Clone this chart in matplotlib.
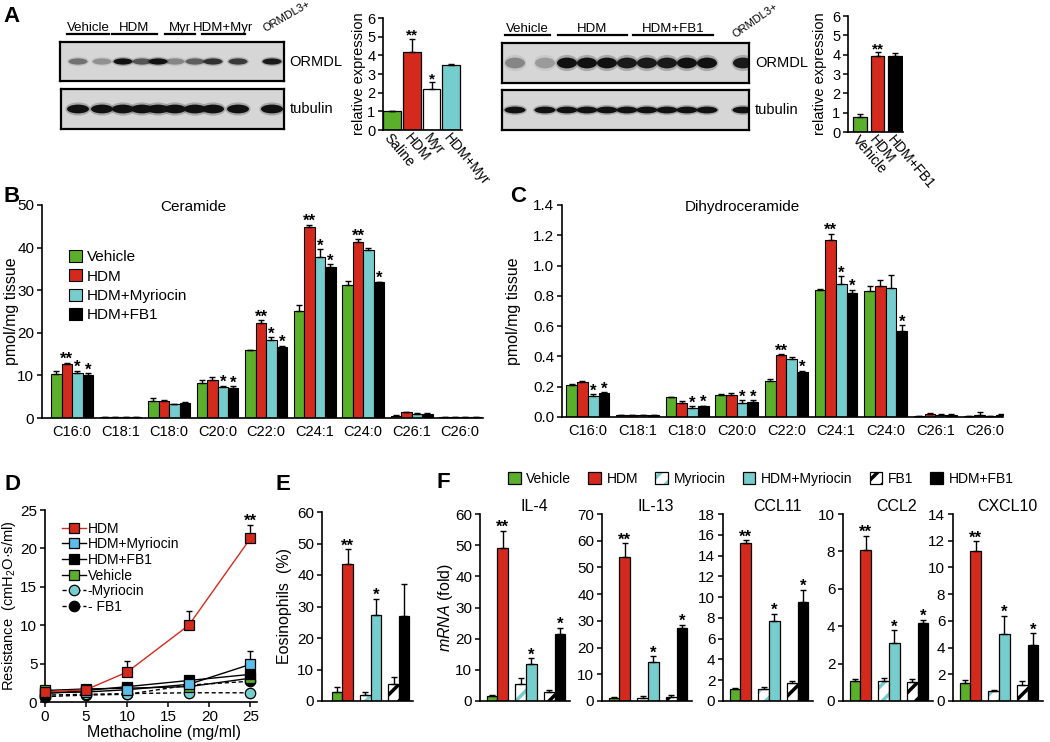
import numpy as np
import matplotlib
matplotlib.use('Agg')
import matplotlib.pyplot as plt
from matplotlib.patches import Ellipse, Patch
import matplotlib.transforms as mtransforms

plt.rcParams['font.family'] = ['Liberation Sans', 'DejaVu Sans']
plt.rcParams['mathtext.fontset'] = 'custom'
plt.rcParams['mathtext.rm'] = 'Liberation Sans'
plt.rcParams['mathtext.it'] = 'Liberation Sans:italic'
plt.rcParams['hatch.linewidth'] = 2.5
plt.rcParams['axes.linewidth'] = 1.2

GREEN = '#5aaf2b'
RED = '#d42a1e'
CYAN = '#76cdcd'
LBLUE = '#5cbde8'

# ---- A: western blots (band strength 0..1) and quantification ----
blot1_groups = ['Vehicle', 'HDM', 'Myr', 'HDM+Myr']
blot1_ormdl = [0.45, 0.3, 1.0, 0.6, 1.0, 0.35, 0.55, 0.8, 0.75, 0.95]
blot1_tubulin = [1.0, 1.0, 1.0, 1.0, 1.0, 1.0, 1.0, 1.0, 1.0, 1.0]

blot2_groups = ['Vehicle', 'HDM', 'HDM+FB1']
blot2_ormdl = [0.35, 0.25, 1.0, 1.0, 1.0, 0.95, 0.95, 0.95, 1.0, 1.0, 0.95]
blot2_tubulin = [1.0, 1.0, 1.0, 1.0, 1.0, 1.0, 1.0, 1.0, 1.0, 1.0, 1.0]

a1_labels = ['Saline', 'HDM', 'Myr', 'HDM+Myr']
a1_vals = [1.0, 4.2, 2.2, 3.5]
a1_err = [0.03, 0.7, 0.35, 0.05]
a1_stars = ['', '**', '*', '']

a2_labels = ['Vehicle', 'HDM', 'HDM+FB1']
a2_vals = [0.8, 3.95, 3.95]
a2_err = [0.15, 0.18, 0.12]
a2_stars = ['', '**', '']

# ---- B / C: lipids ----
lipid_species = ['C16:0', 'C18:1', 'C18:0', 'C20:0', 'C22:0', 'C24:1', 'C24:0', 'C26:1', 'C26:0']
lipid_groups = ['Vehicle', 'HDM', 'HDM+Myriocin', 'HDM+FB1']

cer_vehicle = [10.3, 0.3, 4.1, 8.1, 15.9, 25.2, 31.3, 0.5, 0.2]
cer_vehicle_err = [0.7, 0.05, 0.7, 0.8, 0.1, 1.3, 0.8, 0.1, 0.05]
cer_hdm = [12.7, 0.3, 3.9, 8.9, 22.2, 44.8, 41.4, 1.3, 0.2]
cer_hdm_err = [0.3, 0.05, 0.4, 0.7, 0.8, 0.6, 0.6, 0.2, 0.05]
cer_myr = [10.6, 0.2, 3.2, 7.2, 18.2, 37.8, 39.5, 1.0, 0.2]
cer_myr_err = [0.5, 0.05, 0.1, 0.4, 0.8, 1.9, 0.5, 0.1, 0.05]
cer_fb1 = [10.0, 0.3, 3.5, 7.0, 16.6, 35.4, 31.9, 1.0, 0.2]
cer_fb1_err = [0.5, 0.05, 0.2, 0.4, 0.4, 0.7, 0.1, 0.1, 0.05]
cer_stars = [['', '', '', '', '', '', '', '', ''],
             ['**', '', '', '', '**', '**', '**', '', ''],
             ['*', '', '', '*', '*', '*', '', '', ''],
             ['*', '', '', '*', '*', '*', '*', '', '']]

dh_vehicle = [0.21, 0.01, 0.13, 0.145, 0.24, 0.84, 0.835, 0.005, 0.005]
dh_vehicle_err = [0.01, 0.002, 0.005, 0.01, 0.01, 0.005, 0.03, 0.002, 0.002]
dh_hdm = [0.23, 0.01, 0.095, 0.145, 0.41, 1.17, 0.865, 0.02, 0.015]
dh_hdm_err = [0.01, 0.002, 0.01, 0.015, 0.005, 0.04, 0.04, 0.005, 0.02]
dh_myr = [0.14, 0.01, 0.06, 0.09, 0.385, 0.88, 0.855, 0.015, 0.005]
dh_myr_err = [0.01, 0.002, 0.01, 0.02, 0.01, 0.05, 0.08, 0.002, 0.002]
dh_fb1 = [0.16, 0.01, 0.07, 0.10, 0.295, 0.82, 0.565, 0.015, 0.01]
dh_fb1_err = [0.005, 0.002, 0.005, 0.01, 0.01, 0.02, 0.04, 0.002, 0.01]
dh_stars = [['', '', '', '', '', '', '', '', ''],
            ['', '', '', '', '**', '**', '', '', ''],
            ['*', '', '*', '*', '', '*', '', '', ''],
            ['*', '', '*', '*', '*', '*', '*', '', '']]

# ---- D: airway resistance ----
mch_dose = [0, 5, 10, 17.5, 25]
res_hdm = [1.3, 1.6, 3.9, 10.0, 21.3]
res_hdm_err = [0, 0, 1.4, 1.9, 1.8]
res_hdm_myr = [1.2, 1.3, 1.6, 2.3, 4.9]
res_hdm_myr_err = [0, 0, 0, 0, 1.7]
res_hdm_fb1 = [1.1, 1.5, 2.0, 2.8, 3.6]
res_vehicle = [1.5, 1.7, 1.8, 2.0, 3.1]
res_myr = [0.9, 1.0, 1.1, 1.2, 1.2]
res_fb1 = [0.7, 0.9, 1.0, 2.2, 2.7]

# ---- E / F: six treatment groups ----
treat_groups = ['Vehicle', 'HDM', 'Myriocin', 'HDM+Myriocin', 'FB1', 'HDM+FB1']
eos = [2.8, 43.6, 2.0, 27.3, 5.5, 27.0]
eos_err = [1.5, 4.5, 0.8, 5.2, 2.0, 10.0]
eos_stars = ['', '**', '', '*', '', '']

genes = ['IL-4', 'IL-13', 'CCL11', 'CCL2', 'CXCL10']
il4 = [1.5, 49.2, 5.5, 12.0, 3.0, 21.5]
il4_err = [0.5, 5.5, 1.8, 1.8, 0.5, 2.0]
il13 = [1.0, 54.0, 1.2, 14.7, 1.6, 27.3]
il13_err = [0.5, 5.0, 0.8, 2.0, 0.8, 1.2]
ccl11 = [1.2, 15.2, 1.2, 7.7, 1.7, 9.5]
ccl11_err = [0.05, 0.3, 0.1, 0.7, 0.2, 1.2]
ccl2 = [1.05, 8.1, 1.05, 3.1, 1.0, 4.15]
ccl2_err = [0.15, 0.75, 0.2, 0.7, 0.15, 0.2]
cxcl10 = [1.35, 11.25, 0.75, 5.05, 1.2, 4.2]
cxcl10_err = [0.25, 0.7, 0.1, 1.35, 0.3, 0.9]
mrna_stars = ['', '**', '', '*', '', '*']
mrna_ymax = [60, 70, 18, 10, 14]
mrna_ystep = [10, 10, 2, 2, 2]

# (facecolor, hatch colour) per treatment
treat_style = {'Vehicle': (GREEN, None), 'HDM': (RED, None),
               'Myriocin': ('white', CYAN), 'HDM+Myriocin': (CYAN, None),
               'FB1': ('white', 'k'), 'HDM+FB1': ('k', None)}
lipid_colors = [GREEN, RED, CYAN, 'k']

W, H = 1050, 742
fig = plt.figure(figsize=(W / 100, H / 100), dpi=100)


def px_axes(x0, y0, x1, y1):
    return fig.add_axes([x0 / W, 1 - y1 / H, (x1 - x0) / W, (y1 - y0) / H])


def fig_text(x, y, s, **kw):
    fig.text(x / W, 1 - y / H, s, **kw)


def style(ax, fs=11, xticks=False):
    for s in ['top', 'right']:
        ax.spines[s].set_visible(False)
    ax.tick_params(direction='out', length=3.5, width=1.1, labelsize=fs, pad=2)
    if not xticks:
        ax.tick_params(axis='x', length=0)


def star(ax, x, y, s, fs=12):
    if s:
        ax.annotate(s, (x, y), xytext=(0, -1), textcoords='offset points',
                    ha='center', va='baseline', fontsize=fs, fontweight='bold')


def up_err(ax, x, y, e, cap=2.5):
    ax.errorbar(x, y, yerr=[np.zeros(len(e)), e], fmt='none', ecolor='k',
                elinewidth=1, capsize=cap, capthick=1, zorder=3)


def treat_bars(ax, x, vals, errs, width=1.0):
    for xi, v, g in zip(x, vals, treat_groups):
        fc, hc = treat_style[g]
        if hc is None:
            ax.bar(xi, v, width, color=fc, edgecolor='k', lw=0.9, zorder=2)
        else:
            ax.bar(xi, v, width, color='white', edgecolor=hc, hatch='//', lw=0, zorder=2)
            ax.bar(xi, v, width, fill=False, edgecolor='k', lw=0.9, zorder=2)
    up_err(ax, x, vals, errs)


def draw_blot(ax, lanes, strength, bw, bh, xlim):
    ax.set_facecolor('#d6d6d6')
    for x, s in zip(lanes, strength):
        ax.add_patch(Ellipse((x, 0.5), bw * 1.15, bh * 1.5, color='#222222', alpha=0.25 * s, lw=0))
        ax.add_patch(Ellipse((x, 0.5), bw, bh, color='#111111', alpha=s, lw=0))
    ax.set_xlim(*xlim)
    ax.set_ylim(0, 1)
    ax.set_xticks([])
    ax.set_yticks([])
    for sp in ax.spines.values():
        sp.set_linewidth(1.6)


def blot_header(ax, groups, spans, ytext, yline):
    tr = mtransforms.blended_transform_factory(ax.transData, ax.transAxes)
    for g, (x0, x1) in zip(groups, spans):
        ax.plot([x0, x1], [yline, yline], color='k', lw=1.6, transform=tr, clip_on=False)
        ax.text((x0 + x1) / 2, ytext, g, transform=tr, ha='center', va='center', fontsize=9.5)


# ---------------- Panel A ----------------
# lane units: 20 px per lane
lanes1 = [0, 1.2, 2.25, 3.2, 4.0, 4.85, 5.85, 6.75, 8.0, 9.7]
spans1 = [(-0.55, 1.55), (1.7, 3.95), (4.35, 5.85), (6.2, 8.35)]
ax = px_axes(60, 42, 284, 81)
draw_blot(ax, lanes1, blot1_ormdl, 0.95, 0.16, (-0.9, 10.3))
blot_header(ax, blot1_groups, spans1, 1.36, 1.2)
tr = mtransforms.blended_transform_factory(ax.transData, ax.transAxes)
ax.text(9.45, 1.2, 'ORMDL3+', transform=tr, rotation=30, rotation_mode='anchor',
        ha='left', va='bottom', fontsize=8)
ax.text(1.025, 0.5, 'ORMDL', transform=ax.transAxes, va='center', fontsize=10.5)
ax = px_axes(61, 89, 284, 129)
draw_blot(ax, lanes1, blot1_tubulin, 1.1, 0.22, (-0.85, 10.3))
ax.text(1.025, 0.5, 'tubulin', transform=ax.transAxes, va='center', fontsize=10.5)

lanes2 = [0, 1.5, 2.6, 3.6, 4.6, 5.6, 6.6, 7.6, 8.6, 9.6, 11.4]
spans2 = [(-0.5, 1.75), (2.15, 5.6), (5.9, 9.9)]
ax = px_axes(502, 43, 749, 83)
draw_blot(ax, lanes2, blot2_ormdl, 1.0, 0.27, (-0.65, 11.7))
blot_header(ax, blot2_groups, spans2, 1.35, 1.2)
tr = mtransforms.blended_transform_factory(ax.transData, ax.transAxes)
ax.text(11.1, 1.08, 'ORMDL3+', transform=tr, rotation=35, rotation_mode='anchor',
        ha='left', va='bottom', fontsize=8)
ax.text(1.025, 0.5, 'ORMDL', transform=ax.transAxes, va='center', fontsize=10.5)
ax = px_axes(502, 90, 749, 130)
draw_blot(ax, lanes2, blot2_tubulin, 1.05, 0.17, (-0.65, 11.7))
ax.text(1.025, 0.5, 'tubulin', transform=ax.transAxes, va='center', fontsize=10.5)

for (x0, y0, x1, y1), labels, vals, errs, stars, colors, xl, w, lab_dx in [
        ((383, 18, 462, 130), a1_labels, a1_vals, a1_err, a1_stars,
         [GREEN, RED, 'white', CYAN], (-0.47, 3.55), 0.9, 17),
        ((848, 16, 903, 132), a2_labels, a2_vals, a2_err, a2_stars,
         [GREEN, RED, 'k'], (-0.69, 2.46), 0.8, 21)]:
    ax = px_axes(x0, y0, x1, y1)
    x = np.arange(len(vals))
    ax.bar(x, vals, w, color=colors, edgecolor='k', lw=0.9, zorder=2)
    up_err(ax, x, vals, errs, cap=2)
    for xi, v, e, s in zip(x, vals, errs, stars):
        star(ax, xi, v + e, s, fs=11)
    ax.set_xlim(*xl)
    ax.set_ylim(0, 6)
    ax.set_yticks(range(7))
    ax.set_xticks(x)
    ax.set_xticklabels(labels, rotation=-50, ha='left', rotation_mode='anchor')
    style(ax, fs=10.5)
    ax.tick_params(axis='x', labelsize=10, pad=1)
    ax.set_ylabel('relative expression', fontsize=10.5)
    ax.yaxis.set_label_coords(-lab_dx / (x1 - x0), 0.5)


# ---------------- Panels B, C ----------------
def lipid_panel(rect, series, errs, stars, ymax, ystep, fmt, title, tx, xl, legend=False):
    ax = px_axes(*rect)
    x = np.arange(len(lipid_species))
    bw = 0.215
    for k, (vals, e, c) in enumerate(zip(series, errs, lipid_colors)):
        xs = x + (k - 1.5) * bw
        ax.bar(xs, vals, bw, color=c, edgecolor='k', lw=0.8, zorder=2, label=lipid_groups[k])
        up_err(ax, xs, vals, e, cap=2)
        for xi, v, ei, s in zip(xs, vals, e, stars[k]):
            star(ax, xi, v + ei, s, fs=12)
    ax.set_xlim(*xl)
    ax.set_ylim(0, ymax)
    ticks = np.arange(0, ymax + ystep / 2, ystep)
    ax.set_yticks(ticks)
    ax.set_yticklabels([fmt.format(t) for t in ticks])
    ax.set_xticks(x)
    ax.set_xticklabels(lipid_species)
    style(ax, fs=11)
    ax.tick_params(axis='x', labelsize=10.5, pad=5)
    ax.set_ylabel('pmol/mg tissue', fontsize=11.5)
    ax.text(tx, 0.99, title, transform=ax.transAxes, ha='center', va='center', fontsize=11)
    if legend:
        ax.legend(loc='upper left', bbox_to_anchor=(0.061, 0.79), frameon=False, fontsize=11,
                  handlelength=0.85, handleheight=0.85, handletextpad=0.35,
                  labelspacing=0.33, borderpad=0, borderaxespad=0)
    return ax


ax = lipid_panel((42, 205, 483, 418), [cer_vehicle, cer_hdm, cer_myr, cer_fb1],
                 [cer_vehicle_err, cer_hdm_err, cer_myr_err, cer_fb1_err], cer_stars,
                 50, 10, '{:.0f}', 'Ceramide', 0.342, (-0.62, 8.47), legend=True)
ax.yaxis.set_label_coords(-23 / 441, 0.5)
ax = lipid_panel((562, 205, 1003, 417), [dh_vehicle, dh_hdm, dh_myr, dh_fb1],
                 [dh_vehicle_err, dh_hdm_err, dh_myr_err, dh_fb1_err], dh_stars,
                 1.4, 0.2, '{:.1f}', 'Dihydroceramide', 0.41, (-0.52, 8.36))
ax.yaxis.set_label_coords(-41 / 441, 0.5)

# ---------------- Panel D ----------------
ax = px_axes(45, 510, 257, 702)
dash = (0, (3, 2))
series_d = [
    ('FB1', res_fb1, 'k', dash, 'o', 'k'),
    ('Myriocin', res_myr, 'k', dash, 'o', CYAN),
    ('Vehicle', res_vehicle, 'k', '-', 's', GREEN),
    ('HDM+FB1', res_hdm_fb1, 'k', '-', 's', 'k'),
    ('HDM+Myriocin', res_hdm_myr, 'k', '-', 's', LBLUE),
    ('HDM', res_hdm, RED, '-', 's', RED),
]
handles = {}
for z, (name, vals, lc, ls, mk, mc) in enumerate(series_d):
    h, = ax.plot(mch_dose, vals, color=lc, ls=ls, lw=1, marker=mk, mfc=mc, mec='k',
                 mew=0.9, ms=7.5, zorder=3 + z, clip_on=False)
    handles[name] = h
for vals, errs in [(res_hdm, res_hdm_err), (res_hdm_myr, res_hdm_myr_err)]:
    idx = [i for i, e in enumerate(errs) if e > 0]
    up_err(ax, [mch_dose[i] for i in idx], [vals[i] for i in idx], [errs[i] for i in idx], cap=2.5)
star(ax, mch_dose[-1], res_hdm[-1] + res_hdm_err[-1], '**', fs=12)
order = ['HDM', 'HDM+Myriocin', 'HDM+FB1', 'Vehicle', 'Myriocin', 'FB1']
ax.legend([handles[n] for n in order], ['HDM', 'HDM+Myriocin', 'HDM+FB1', 'Vehicle', '-Myriocin', '- FB1'],
          loc='upper left', bbox_to_anchor=(0.08, 0.94), frameon=False, fontsize=10,
          handlelength=1.7, handletextpad=0.15, labelspacing=0.12, borderpad=0, borderaxespad=0)
ax.set_xlim(0, 25.8)
ax.set_ylim(0, 25)
ax.set_xticks([0, 5, 10, 15, 20, 25])
ax.set_yticks([0, 5, 10, 15, 20, 25])
style(ax, fs=11, xticks=True)
ax.set_xlabel('Methacholine (mg/ml)', fontsize=11.5)
ax.xaxis.set_label_coords(0.56, -0.12)
ax.set_ylabel('Resistance  (cmH$_2$O·s/ml)', fontsize=10.5)
ax.yaxis.set_label_coords(-27 / 212, 0.5)

# ---------------- Panel E ----------------
pos6 = (np.array([0, 1])[None, :] + 2.7 * np.arange(3)[:, None]).ravel()
ax = px_axes(322, 512, 413, 701)
treat_bars(ax, pos6, eos, eos_err)
for xi, v, e, s in zip(pos6, eos, eos_err, eos_stars):
    star(ax, xi, v + e, s)
ax.set_xlim(-1.45, 7.25)
ax.set_ylim(0, 60)
ax.set_yticks(range(0, 61, 10))
ax.set_xticks([])
style(ax, fs=11)
ax.set_ylabel('Eosinophils  (%)', fontsize=11.5)
ax.yaxis.set_label_coords(-30 / 91, 0.5)

# ---------------- Panel F ----------------
f_lefts = [480, 602, 723, 843, 953]
f_vals = [il4, il13, ccl11, ccl2, cxcl10]
f_errs = [il4_err, il13_err, ccl11_err, ccl2_err, cxcl10_err]
for i, (gname, vals, errs) in enumerate(zip(genes, f_vals, f_errs)):
    ax = px_axes(f_lefts[i], 514, f_lefts[i] + 90, 701)
    treat_bars(ax, pos6, vals, errs)
    for xi, v, e, s in zip(pos6, vals, errs, mrna_stars):
        star(ax, xi, v + e, s)
    ax.set_xlim(-1.15, 7.35)
    ax.set_ylim(0, mrna_ymax[i])
    ax.set_yticks(range(0, mrna_ymax[i] + 1, mrna_ystep[i]))
    ax.set_xticks([])
    style(ax, fs=11)
    ax.text(0.6, 1.04, gname, transform=ax.transAxes, ha='center', va='center', fontsize=11.5)
    if i == 0:
        ax.set_ylabel('$\\mathit{mRNA}$ (fold)', fontsize=11.5)
        ax.yaxis.set_label_coords(-25 / 90, 0.5)

leg_handles = []
for g in treat_groups:
    fc, hc = treat_style[g]
    if hc is None:
        leg_handles.append(Patch(facecolor=fc, edgecolor='k', lw=0.9))
    else:
        leg_handles.append((Patch(facecolor='white', edgecolor=hc, hatch='//', lw=0),
                            Patch(fill=False, edgecolor='k', lw=0.9)))
fig.legend(leg_handles, treat_groups, ncol=6, loc='center left',
           bbox_to_anchor=(508 / W, 1 - 479 / H), frameon=False, fontsize=10,
           handlelength=0.9, handleheight=0.9, handletextpad=0.4, columnspacing=1.25,
           borderpad=0, borderaxespad=0)

# panel letters
for letter, (x, y) in zip('ABCDEF', [(12, 17), (12, 197), (518, 197), (12, 485), (283, 485), (443, 483)]):
    fig_text(x, y, letter, fontsize=16, fontweight='bold', ha='center', va='center')

fig.savefig('out.png', dpi=100, facecolor='white')
